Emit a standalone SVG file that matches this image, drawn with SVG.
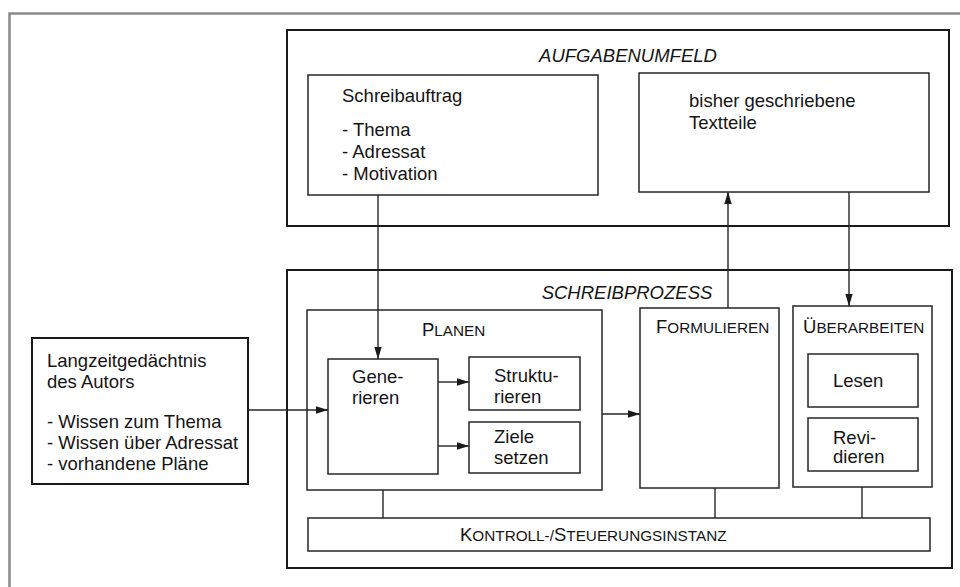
<svg xmlns="http://www.w3.org/2000/svg" width="960" height="587" viewBox="0 0 960 587">
<defs>
<marker id="ah" markerUnits="userSpaceOnUse" markerWidth="13" markerHeight="9" refX="12" refY="4.5" orient="auto">
<path d="M0,0.8 L12,4.5 L0,8.2 z" fill="#1a1a1a"/>
</marker>
<style>
text{font-family:"Liberation Sans",Arial,Helvetica,sans-serif;fill:#151515;font-size:18.5px}
.it{font-style:italic}
.sc{font-size:15.3px}
.big{fill:none;stroke:#1a1a1a;stroke-width:2}
.box{fill:none;stroke:#262626;stroke-width:1.5}
.con{fill:none;stroke:#262626;stroke-width:1.4}
.frame{fill:none;stroke:#8a8a8a;stroke-width:2.5}
</style>
</defs>
<rect width="960" height="587" fill="#fff"/>
<polyline class="frame" points="9.5,587 9.5,13.5 960,13.5"/>

<g id="aufgabenumfeld">
<rect class="big" x="287" y="30" width="662" height="196"/>
<text class="it" x="628" y="62" text-anchor="middle">AUFGABENUMFELD</text>
</g>
<g id="schreibauftrag">
<rect class="box" x="308" y="75" width="290" height="120"/>
<text x="342" y="102">Schreibauftrag</text>
<text x="342" y="136">- Thema</text>
<text x="342" y="158">- Adressat</text>
<text x="342" y="180">- Motivation</text>
</g>
<g id="textteile">
<rect class="box" x="639" y="73" width="290" height="119"/>
<text x="689" y="107">bisher geschriebene</text>
<text x="689" y="129">Textteile</text>
</g>

<g id="langzeitgedaechtnis">
<rect class="big" x="32" y="338" width="216" height="146"/>
<text x="47" y="367">Langzeitgedächtnis</text>
<text x="47" y="388">des Autors</text>
<text x="47" y="428">- Wissen zum Thema</text>
<text x="47" y="449">- Wissen über Adressat</text>
<text x="47" y="470">- vorhandene Pläne</text>
</g>

<g id="schreibprozess">
<rect class="big" x="287" y="270" width="665" height="298"/>
<text class="it" x="627" y="299" text-anchor="middle">SCHREIBPROZESS</text>
</g>
<g id="planen">
<rect class="box" x="307" y="310" width="295" height="180"/>
<text x="422" y="336">P<tspan class="sc">LANEN</tspan></text>
</g>
<g id="generieren">
<rect class="box" x="328" y="359" width="110" height="115"/>
<text x="352" y="383">Gene-</text>
<text x="352" y="404">rieren</text>
</g>
<g id="strukturieren">
<rect class="box" x="469" y="357" width="111" height="53"/>
<text x="494" y="382">Struktu-</text>
<text x="494" y="403">rieren</text>
</g>
<g id="ziele-setzen">
<rect class="box" x="469" y="422" width="111" height="51"/>
<text x="494" y="443">Ziele</text>
<text x="494" y="464">setzen</text>
</g>
<g id="formulieren">
<rect class="box" x="640" y="308" width="139" height="180"/>
<text x="656" y="333">F<tspan class="sc">ORMULIEREN</tspan></text>
</g>
<g id="ueberarbeiten">
<rect class="box" x="793" y="306" width="139" height="181"/>
<text x="803" y="333">Ü<tspan class="sc">BERARBEITEN</tspan></text>
</g>
<g id="lesen">
<rect class="box" x="808" y="354" width="110" height="53"/>
<text x="833" y="387">Lesen</text>
</g>
<g id="revidieren">
<rect class="box" x="808" y="418" width="110" height="53"/>
<text x="833" y="444">Revi-</text>
<text x="833" y="463">dieren</text>
</g>
<g id="kontrollinstanz">
<rect class="box" x="308" y="518" width="622" height="33"/>
<text x="460" y="541">K<tspan class="sc">ONTROLL-/</tspan>S<tspan class="sc">TEUERUNGSINSTANZ</tspan></text>
</g>

<g id="connectors">
<line class="con" x1="378" y1="195" x2="378" y2="359" marker-end="url(#ah)"/>
<line class="con" x1="728" y1="308" x2="728" y2="192" marker-end="url(#ah)"/>
<line class="con" x1="849" y1="192" x2="849" y2="306" marker-end="url(#ah)"/>
<line class="con" x1="248" y1="410" x2="328" y2="410" marker-end="url(#ah)"/>
<line class="con" x1="438" y1="382" x2="469" y2="382" marker-end="url(#ah)"/>
<line class="con" x1="438" y1="446" x2="469" y2="446" marker-end="url(#ah)"/>
<line class="con" x1="602" y1="414" x2="640" y2="414" marker-end="url(#ah)"/>
<line class="con" x1="383" y1="490" x2="383" y2="518"/>
<line class="con" x1="715" y1="488" x2="715" y2="518"/>
<line class="con" x1="862" y1="487" x2="862" y2="518"/>
</g>
</svg>
